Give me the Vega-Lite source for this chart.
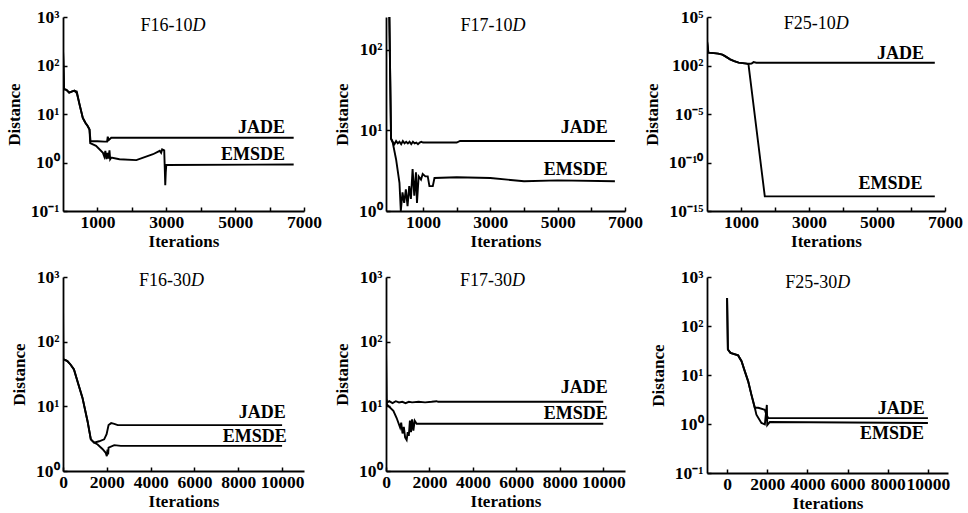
{
  "$schema": "https://vega.github.io/schema/vega-lite/v6.json",
  "padding": {"left": 5, "top": 8, "right": 5, "bottom": 5},
  "background": "white",
  "config": {
    "view": {"stroke": null},
    "text": {"font": "Liberation Serif", "fontSize": 18, "fontWeight": "bold", "color": "black", "baseline": "alphabetic"},
    "axis": {
      "grid": false,
      "domainColor": "black",
      "domainWidth": 1.8,
      "tickColor": "black",
      "tickWidth": 1.5,
      "tickSize": -4,
      "labelFont": "Liberation Serif",
      "labelFontSize": 17.5,
      "labelFontWeight": "bold",
      "labelColor": "black",
      "labelOverlap": false,
      "labelFlush": false,
      "titleFont": "Liberation Serif",
      "titleFontSize": 17,
      "titleFontWeight": "bold",
      "titleColor": "black"
    },
    "axisX": {"labelPadding": 6, "titlePadding": 3},
    "axisY": {"labelPadding": 8, "titlePadding": 7}
  },
  "datasets": {
    "curves": [
      {"panel":1,"series":"JADE","iter":0,"dist":214},{"panel":1,"series":"JADE","iter":30,"dist":32.4},{"panel":1,"series":"JADE","iter":100,"dist":31.6},{"panel":1,"series":"JADE","iter":180,"dist":27.5},{"panel":1,"series":"JADE","iter":250,"dist":28.8},{"panel":1,"series":"JADE","iter":330,"dist":30.2},{"panel":1,"series":"JADE","iter":400,"dist":27.0},{"panel":1,"series":"JADE","iter":480,"dist":15.8},{"panel":1,"series":"JADE","iter":575,"dist":8.3},{"panel":1,"series":"JADE","iter":650,"dist":6.6},{"panel":1,"series":"JADE","iter":720,"dist":5.6},{"panel":1,"series":"JADE","iter":770,"dist":4.8},{"panel":1,"series":"JADE","iter":800,"dist":2.75},{"panel":1,"series":"JADE","iter":1000,"dist":2.75},{"panel":1,"series":"JADE","iter":1200,"dist":2.69},{"panel":1,"series":"JADE","iter":1280,"dist":2.7},{"panel":1,"series":"JADE","iter":1300,"dist":3.4},{"panel":1,"series":"JADE","iter":1330,"dist":2.9},{"panel":1,"series":"JADE","iter":1400,"dist":3.24},{"panel":1,"series":"JADE","iter":6700,"dist":3.24},
      {"panel":1,"series":"EMSDE","iter":0,"dist":214},{"panel":1,"series":"EMSDE","iter":30,"dist":32.4},{"panel":1,"series":"EMSDE","iter":100,"dist":31.6},{"panel":1,"series":"EMSDE","iter":180,"dist":27.5},{"panel":1,"series":"EMSDE","iter":250,"dist":28.8},{"panel":1,"series":"EMSDE","iter":330,"dist":30.2},{"panel":1,"series":"EMSDE","iter":400,"dist":29.0},{"panel":1,"series":"EMSDE","iter":480,"dist":15.8},{"panel":1,"series":"EMSDE","iter":575,"dist":8.3},{"panel":1,"series":"EMSDE","iter":650,"dist":6.6},{"panel":1,"series":"EMSDE","iter":720,"dist":5.6},{"panel":1,"series":"EMSDE","iter":770,"dist":4.8},{"panel":1,"series":"EMSDE","iter":790,"dist":2.5},{"panel":1,"series":"EMSDE","iter":960,"dist":2.2},{"panel":1,"series":"EMSDE","iter":1160,"dist":1.58},{"panel":1,"series":"EMSDE","iter":1200,"dist":1.32},{"panel":1,"series":"EMSDE","iter":1230,"dist":1.74},{"panel":1,"series":"EMSDE","iter":1260,"dist":1.17},{"panel":1,"series":"EMSDE","iter":1290,"dist":1.58},{"panel":1,"series":"EMSDE","iter":1320,"dist":1.2},{"panel":1,"series":"EMSDE","iter":1350,"dist":1.78},{"panel":1,"series":"EMSDE","iter":1370,"dist":1.17},{"panel":1,"series":"EMSDE","iter":1400,"dist":1.26},{"panel":1,"series":"EMSDE","iter":1640,"dist":1.17},{"panel":1,"series":"EMSDE","iter":2130,"dist":1.12},{"panel":1,"series":"EMSDE","iter":2615,"dist":1.48},{"panel":1,"series":"EMSDE","iter":2810,"dist":1.74},{"panel":1,"series":"EMSDE","iter":2850,"dist":1.58},{"panel":1,"series":"EMSDE","iter":2880,"dist":1.86},{"panel":1,"series":"EMSDE","iter":2940,"dist":1.78},{"panel":1,"series":"EMSDE","iter":2955,"dist":0.8},{"panel":1,"series":"EMSDE","iter":2970,"dist":0.34},{"panel":1,"series":"EMSDE","iter":2985,"dist":0.63},{"panel":1,"series":"EMSDE","iter":3000,"dist":0.89},{"panel":1,"series":"EMSDE","iter":6700,"dist":0.91},

      {"panel":2,"series":"JADE","iter":0,"dist":257},{"panel":2,"series":"JADE","iter":50,"dist":7.9},{"panel":2,"series":"JADE","iter":100,"dist":7.24},{"panel":2,"series":"JADE","iter":150,"dist":6.76},{"panel":2,"series":"JADE","iter":200,"dist":7.41},{"panel":2,"series":"JADE","iter":250,"dist":6.92},{"panel":2,"series":"JADE","iter":300,"dist":7.24},{"panel":2,"series":"JADE","iter":350,"dist":6.76},{"panel":2,"series":"JADE","iter":400,"dist":7.41},{"panel":2,"series":"JADE","iter":450,"dist":6.92},{"panel":2,"series":"JADE","iter":500,"dist":7.24},{"panel":2,"series":"JADE","iter":550,"dist":6.92},{"panel":2,"series":"JADE","iter":600,"dist":7.24},{"panel":2,"series":"JADE","iter":650,"dist":6.76},{"panel":2,"series":"JADE","iter":700,"dist":7.24},{"panel":2,"series":"JADE","iter":750,"dist":6.92},{"panel":2,"series":"JADE","iter":800,"dist":7.08},{"panel":2,"series":"JADE","iter":850,"dist":6.76},{"panel":2,"series":"JADE","iter":900,"dist":7.08},{"panel":2,"series":"JADE","iter":950,"dist":7.24},{"panel":2,"series":"JADE","iter":1000,"dist":7.08},{"panel":2,"series":"JADE","iter":1500,"dist":7.08},{"panel":2,"series":"JADE","iter":2000,"dist":7.08},{"panel":2,"series":"JADE","iter":2100,"dist":7.41},{"panel":2,"series":"JADE","iter":6700,"dist":7.41},
      {"panel":2,"series":"EMSDE","iter":0,"dist":257},{"panel":2,"series":"EMSDE","iter":50,"dist":7.9},{"panel":2,"series":"EMSDE","iter":100,"dist":7.08},{"panel":2,"series":"EMSDE","iter":200,"dist":4.37},{"panel":2,"series":"EMSDE","iter":300,"dist":2.24},{"panel":2,"series":"EMSDE","iter":340,"dist":1.0},{"panel":2,"series":"EMSDE","iter":390,"dist":1.7},{"panel":2,"series":"EMSDE","iter":440,"dist":1.26},{"panel":2,"series":"EMSDE","iter":490,"dist":1.86},{"panel":2,"series":"EMSDE","iter":540,"dist":1.15},{"panel":2,"series":"EMSDE","iter":590,"dist":2.04},{"panel":2,"series":"EMSDE","iter":640,"dist":1.41},{"panel":2,"series":"EMSDE","iter":690,"dist":3.31},{"panel":2,"series":"EMSDE","iter":740,"dist":1.55},{"panel":2,"series":"EMSDE","iter":790,"dist":3.02},{"panel":2,"series":"EMSDE","iter":820,"dist":1.26},{"panel":2,"series":"EMSDE","iter":870,"dist":2.69},{"panel":2,"series":"EMSDE","iter":940,"dist":2.45},{"panel":2,"series":"EMSDE","iter":990,"dist":2.88},{"panel":2,"series":"EMSDE","iter":1070,"dist":2.69},{"panel":2,"series":"EMSDE","iter":1140,"dist":2.69},{"panel":2,"series":"EMSDE","iter":1190,"dist":2.04},{"panel":2,"series":"EMSDE","iter":1290,"dist":2.04},{"panel":2,"series":"EMSDE","iter":1340,"dist":2.57},{"panel":2,"series":"EMSDE","iter":2000,"dist":2.63},{"panel":2,"series":"EMSDE","iter":3000,"dist":2.57},{"panel":2,"series":"EMSDE","iter":4000,"dist":2.34},{"panel":2,"series":"EMSDE","iter":5000,"dist":2.4},{"panel":2,"series":"EMSDE","iter":6700,"dist":2.34},

      {"panel":3,"series":"JADE","iter":0,"dist":355},{"panel":3,"series":"JADE","iter":40,"dist":20.9},{"panel":3,"series":"JADE","iter":200,"dist":19},{"panel":3,"series":"JADE","iter":330,"dist":16.6},{"panel":3,"series":"JADE","iter":450,"dist":13},{"panel":3,"series":"JADE","iter":530,"dist":9.3},{"panel":3,"series":"JADE","iter":600,"dist":6.5},{"panel":3,"series":"JADE","iter":680,"dist":4.27},{"panel":3,"series":"JADE","iter":800,"dist":2.8},{"panel":3,"series":"JADE","iter":930,"dist":1.95},{"panel":3,"series":"JADE","iter":1170,"dist":1.55},{"panel":3,"series":"JADE","iter":1250,"dist":1.5},{"panel":3,"series":"JADE","iter":1310,"dist":1.6},{"panel":3,"series":"JADE","iter":1370,"dist":2.24},{"panel":3,"series":"JADE","iter":1450,"dist":1.95},{"panel":3,"series":"JADE","iter":6700,"dist":1.95},
      {"panel":3,"series":"EMSDE","iter":0,"dist":355},{"panel":3,"series":"EMSDE","iter":40,"dist":20.9},{"panel":3,"series":"EMSDE","iter":200,"dist":19},{"panel":3,"series":"EMSDE","iter":330,"dist":16.6},{"panel":3,"series":"EMSDE","iter":450,"dist":13},{"panel":3,"series":"EMSDE","iter":530,"dist":9.3},{"panel":3,"series":"EMSDE","iter":600,"dist":6.5},{"panel":3,"series":"EMSDE","iter":680,"dist":4.27},{"panel":3,"series":"EMSDE","iter":800,"dist":2.8},{"panel":3,"series":"EMSDE","iter":930,"dist":1.95},{"panel":3,"series":"EMSDE","iter":1170,"dist":1.55},{"panel":3,"series":"EMSDE","iter":1220,"dist":1.29},{"panel":3,"series":"EMSDE","iter":1700,"dist":3.24e-14},{"panel":3,"series":"EMSDE","iter":6700,"dist":3.24e-14},

      {"panel":4,"series":"JADE","iter":0,"dist":479},{"panel":4,"series":"JADE","iter":10,"dist":53.7},{"panel":4,"series":"JADE","iter":200,"dist":50.1},{"panel":4,"series":"JADE","iter":350,"dist":44},{"panel":4,"series":"JADE","iter":500,"dist":37.2},{"panel":4,"series":"JADE","iter":660,"dist":24.5},{"panel":4,"series":"JADE","iter":890,"dist":13.5},{"panel":4,"series":"JADE","iter":1120,"dist":5.89},{"panel":4,"series":"JADE","iter":1270,"dist":3.09},{"panel":4,"series":"JADE","iter":1420,"dist":2.75},{"panel":4,"series":"JADE","iter":1650,"dist":2.88},{"panel":4,"series":"JADE","iter":1880,"dist":3.09},{"panel":4,"series":"JADE","iter":1990,"dist":3.72},{"panel":4,"series":"JADE","iter":2080,"dist":5.13},{"panel":4,"series":"JADE","iter":2200,"dist":5.5},{"panel":4,"series":"JADE","iter":2340,"dist":5.37},{"panel":4,"series":"JADE","iter":2500,"dist":5.13},{"panel":4,"series":"JADE","iter":10000,"dist":5.13},
      {"panel":4,"series":"EMSDE","iter":0,"dist":479},{"panel":4,"series":"EMSDE","iter":10,"dist":53.7},{"panel":4,"series":"EMSDE","iter":200,"dist":50.1},{"panel":4,"series":"EMSDE","iter":350,"dist":44},{"panel":4,"series":"EMSDE","iter":500,"dist":37.2},{"panel":4,"series":"EMSDE","iter":660,"dist":24.5},{"panel":4,"series":"EMSDE","iter":890,"dist":13.5},{"panel":4,"series":"EMSDE","iter":1120,"dist":5.89},{"panel":4,"series":"EMSDE","iter":1270,"dist":3.09},{"panel":4,"series":"EMSDE","iter":1420,"dist":2.75},{"panel":4,"series":"EMSDE","iter":1580,"dist":2.57},{"panel":4,"series":"EMSDE","iter":1800,"dist":2.19},{"panel":4,"series":"EMSDE","iter":1950,"dist":1.91},{"panel":4,"series":"EMSDE","iter":2000,"dist":1.7},{"panel":4,"series":"EMSDE","iter":2030,"dist":2.14},{"panel":4,"series":"EMSDE","iter":2060,"dist":1.8},{"panel":4,"series":"EMSDE","iter":2080,"dist":2.29},{"panel":4,"series":"EMSDE","iter":2340,"dist":2.51},{"panel":4,"series":"EMSDE","iter":2640,"dist":2.45},{"panel":4,"series":"EMSDE","iter":10000,"dist":2.45},

      {"panel":5,"series":"JADE","iter":0,"dist":79},{"panel":5,"series":"JADE","iter":20,"dist":12.9},{"panel":5,"series":"JADE","iter":60,"dist":11.5},{"panel":5,"series":"JADE","iter":150,"dist":12.0},{"panel":5,"series":"JADE","iter":300,"dist":11.2},{"panel":5,"series":"JADE","iter":450,"dist":12.0},{"panel":5,"series":"JADE","iter":600,"dist":11.5},{"panel":5,"series":"JADE","iter":750,"dist":11.75},{"panel":5,"series":"JADE","iter":900,"dist":11.2},{"panel":5,"series":"JADE","iter":1050,"dist":11.75},{"panel":5,"series":"JADE","iter":1200,"dist":11.5},{"panel":5,"series":"JADE","iter":1500,"dist":11.75},{"panel":5,"series":"JADE","iter":1800,"dist":11.5},{"panel":5,"series":"JADE","iter":2100,"dist":11.75},{"panel":5,"series":"JADE","iter":2330,"dist":12.0},{"panel":5,"series":"JADE","iter":2400,"dist":11.75},{"panel":5,"series":"JADE","iter":10000,"dist":11.75},
      {"panel":5,"series":"EMSDE","iter":0,"dist":79},{"panel":5,"series":"EMSDE","iter":20,"dist":12.9},{"panel":5,"series":"EMSDE","iter":40,"dist":10.7},{"panel":5,"series":"EMSDE","iter":340,"dist":8.5},{"panel":5,"series":"EMSDE","iter":490,"dist":6.6},{"panel":5,"series":"EMSDE","iter":650,"dist":4.68},{"panel":5,"series":"EMSDE","iter":700,"dist":5.6},{"panel":5,"series":"EMSDE","iter":760,"dist":3.8},{"panel":5,"series":"EMSDE","iter":820,"dist":4.8},{"panel":5,"series":"EMSDE","iter":880,"dist":3.3},{"panel":5,"series":"EMSDE","iter":950,"dist":3.02},{"panel":5,"series":"EMSDE","iter":1000,"dist":4.0},{"panel":5,"series":"EMSDE","iter":1050,"dist":3.5},{"panel":5,"series":"EMSDE","iter":1100,"dist":6.0},{"panel":5,"series":"EMSDE","iter":1150,"dist":4.0},{"panel":5,"series":"EMSDE","iter":1200,"dist":6.3},{"panel":5,"series":"EMSDE","iter":1260,"dist":4.2},{"panel":5,"series":"EMSDE","iter":1320,"dist":6.0},{"panel":5,"series":"EMSDE","iter":1410,"dist":5.37},{"panel":5,"series":"EMSDE","iter":10000,"dist":5.37},

      {"panel":6,"series":"JADE","iter":0,"dist":372},{"panel":6,"series":"JADE","iter":40,"dist":33.1},{"panel":6,"series":"JADE","iter":170,"dist":28.2},{"panel":6,"series":"JADE","iter":550,"dist":25.1},{"panel":6,"series":"JADE","iter":720,"dist":19.1},{"panel":6,"series":"JADE","iter":880,"dist":12.0},{"panel":6,"series":"JADE","iter":1050,"dist":7.41},{"panel":6,"series":"JADE","iter":1210,"dist":3.98},{"panel":6,"series":"JADE","iter":1380,"dist":2.14},{"panel":6,"series":"JADE","iter":1550,"dist":2.14},{"panel":6,"series":"JADE","iter":1880,"dist":1.95},{"panel":6,"series":"JADE","iter":1950,"dist":1.58},{"panel":6,"series":"JADE","iter":2050,"dist":1.32},{"panel":6,"series":"JADE","iter":10000,"dist":1.32},
      {"panel":6,"series":"EMSDE","iter":0,"dist":372},{"panel":6,"series":"EMSDE","iter":40,"dist":33.1},{"panel":6,"series":"EMSDE","iter":170,"dist":28.2},{"panel":6,"series":"EMSDE","iter":550,"dist":25.1},{"panel":6,"series":"EMSDE","iter":720,"dist":19.1},{"panel":6,"series":"EMSDE","iter":880,"dist":12.0},{"panel":6,"series":"EMSDE","iter":1050,"dist":7.41},{"panel":6,"series":"EMSDE","iter":1210,"dist":3.98},{"panel":6,"series":"EMSDE","iter":1380,"dist":2.14},{"panel":6,"series":"EMSDE","iter":1460,"dist":1.55},{"panel":6,"series":"EMSDE","iter":1710,"dist":1.05},{"panel":6,"series":"EMSDE","iter":1880,"dist":0.98},{"panel":6,"series":"EMSDE","iter":1980,"dist":2.45},{"panel":6,"series":"EMSDE","iter":2000,"dist":0.95},{"panel":6,"series":"EMSDE","iter":2130,"dist":1.1},{"panel":6,"series":"EMSDE","iter":10000,"dist":1.05}
    ],
    "notes": [
      {"panel":1,"kind":"t1","text":"F16-10","iter":3760,"dist":513},{"panel":1,"kind":"t2","text":"D","iter":3760,"dist":513},{"panel":1,"kind":"lab","text":"JADE","iter":6450,"dist":4.0},{"panel":1,"kind":"lab","text":"EMSDE","iter":6450,"dist":1.11},
      {"panel":2,"kind":"t1","text":"F17-10","iter":3660,"dist":172},{"panel":2,"kind":"t2","text":"D","iter":3660,"dist":172},{"panel":2,"kind":"lab","text":"JADE","iter":6490,"dist":9.23},{"panel":2,"kind":"lab","text":"EMSDE","iter":6490,"dist":2.8},
      {"panel":3,"kind":"t1","text":"F25-10","iter":3790,"dist":5370},{"panel":3,"kind":"t2","text":"D","iter":3790,"dist":5370},{"panel":3,"kind":"lab","text":"JADE","iter":6380,"dist":4.27},{"panel":3,"kind":"lab","text":"EMSDE","iter":6340,"dist":1.86e-13},
      {"panel":4,"kind":"t1","text":"F16-30","iter":5840,"dist":724},{"panel":4,"kind":"t2","text":"D","iter":5840,"dist":724},{"panel":4,"kind":"lab","text":"JADE","iter":10170,"dist":6.65},{"panel":4,"kind":"lab","text":"EMSDE","iter":10210,"dist":2.84},
      {"panel":5,"kind":"t1","text":"F17-30","iter":5800,"dist":724},{"panel":5,"kind":"t2","text":"D","iter":5800,"dist":724},{"panel":5,"kind":"lab","text":"JADE","iter":10210,"dist":16.2},{"panel":5,"kind":"lab","text":"EMSDE","iter":10210,"dist":6.3},
      {"panel":6,"kind":"t1","text":"F25-30","iter":5490,"dist":600},{"panel":6,"kind":"t2","text":"D","iter":5490,"dist":600},{"panel":6,"kind":"lab","text":"JADE","iter":9840,"dist":1.58},{"panel":6,"kind":"lab","text":"EMSDE","iter":9800,"dist":0.49}
    ]
  },
  "columns": 3,
  "spacing": {"row": 66, "column": 82},
  "bounds": "flush",
  "concat": [
    {
      "width": 241, "height": 194,
      "encoding": {
        "x": {"field": "iter", "type": "quantitative", "scale": {"domain": [0, 7000], "nice": false, "zero": false}, "axis": {"title": "Iterations", "values": [1000,2000,3000,4000,5000,6000,7000], "format": "d", "labelExpr": "datum.value % 2000 == 0 ? '' : datum.label"}},
        "y": {"field": "dist", "type": "quantitative", "scale": {"type": "log", "domain": [0.1, 1000], "nice": false}, "axis": {"title": "Distance", "values": [0.1,1,10,100,1000], "labelExpr": "datum.value > 500 ? '10³' : datum.value > 50 ? '10²' : datum.value > 5 ? '10¹' : datum.value > 0.5 ? '10⁰' : '10⁻¹'"}}
      },
      "layer": [
        {"data": {"name": "curves"}, "transform": [{"filter": "datum.panel == 1"}], "mark": {"type": "line", "color": "black", "strokeWidth": 1.9, "clip": true}, "encoding": {"detail": {"field": "series"}}},
        {"data": {"name": "notes"}, "transform": [{"filter": "datum.panel == 1 && datum.kind == 't1'"}], "mark": {"type": "text", "align": "right", "fontWeight": "normal"}, "encoding": {"text": {"field": "text"}}},
        {"data": {"name": "notes"}, "transform": [{"filter": "datum.panel == 1 && datum.kind == 't2'"}], "mark": {"type": "text", "align": "left", "fontStyle": "italic", "fontWeight": "normal"}, "encoding": {"text": {"field": "text"}}},
        {"data": {"name": "notes"}, "transform": [{"filter": "datum.panel == 1 && datum.kind == 'lab'"}], "mark": {"type": "text", "align": "right"}, "encoding": {"text": {"field": "text"}}}
      ]
    },
    {
      "width": 239, "height": 194,
      "encoding": {
        "x": {"field": "iter", "type": "quantitative", "scale": {"domain": [-100, 7000], "nice": false, "zero": false}, "axis": {"title": "Iterations", "values": [1000,2000,3000,4000,5000,6000,7000], "format": "d", "labelExpr": "datum.value % 2000 == 0 ? '' : datum.label"}},
        "y": {"field": "dist", "type": "quantitative", "scale": {"type": "log", "domain": [1, 257], "nice": false}, "axis": {"title": "Distance", "values": [1,10,100], "labelExpr": "datum.value > 50 ? '10²' : datum.value > 5 ? '10¹' : '10⁰'"}}
      },
      "layer": [
        {"data": {"name": "curves"}, "transform": [{"filter": "datum.panel == 2"}], "mark": {"type": "line", "color": "black", "strokeWidth": 1.9, "clip": true}, "encoding": {"detail": {"field": "series"}}},
        {"data": {"name": "notes"}, "transform": [{"filter": "datum.panel == 2 && datum.kind == 't1'"}], "mark": {"type": "text", "align": "right", "fontWeight": "normal"}, "encoding": {"text": {"field": "text"}}},
        {"data": {"name": "notes"}, "transform": [{"filter": "datum.panel == 2 && datum.kind == 't2'"}], "mark": {"type": "text", "align": "left", "fontStyle": "italic", "fontWeight": "normal"}, "encoding": {"text": {"field": "text"}}},
        {"data": {"name": "notes"}, "transform": [{"filter": "datum.panel == 2 && datum.kind == 'lab'"}], "mark": {"type": "text", "align": "right"}, "encoding": {"text": {"field": "text"}}}
      ]
    },
    {
      "width": 238, "height": 194,
      "encoding": {
        "x": {"field": "iter", "type": "quantitative", "scale": {"domain": [0, 7000], "nice": false, "zero": false}, "axis": {"title": "Iterations", "values": [1000,2000,3000,4000,5000,6000,7000], "format": "d", "labelExpr": "datum.value % 2000 == 0 ? '' : datum.label"}},
        "y": {"field": "dist", "type": "quantitative", "scale": {"type": "log", "domain": [1e-15, 100000], "nice": false}, "axis": {"title": "Distance", "values": [1e-15,1e-10,1e-5,1,100000], "labelExpr": "datum.value > 1000 ? '10⁵' : datum.value > 0.01 ? '100²' : datum.value > 1e-7 ? '10⁻⁵' : datum.value > 1e-12 ? '10⁻¹⁰' : '10⁻¹⁵'"}}
      },
      "layer": [
        {"data": {"name": "curves"}, "transform": [{"filter": "datum.panel == 3"}], "mark": {"type": "line", "color": "black", "strokeWidth": 1.9, "clip": true}, "encoding": {"detail": {"field": "series"}}},
        {"data": {"name": "notes"}, "transform": [{"filter": "datum.panel == 3 && datum.kind == 't1'"}], "mark": {"type": "text", "align": "right", "fontWeight": "normal"}, "encoding": {"text": {"field": "text"}}},
        {"data": {"name": "notes"}, "transform": [{"filter": "datum.panel == 3 && datum.kind == 't2'"}], "mark": {"type": "text", "align": "left", "fontStyle": "italic", "fontWeight": "normal"}, "encoding": {"text": {"field": "text"}}},
        {"data": {"name": "notes"}, "transform": [{"filter": "datum.panel == 3 && datum.kind == 'lab'"}], "mark": {"type": "text", "align": "right"}, "encoding": {"text": {"field": "text"}}}
      ]
    },
    {
      "width": 241, "height": 194,
      "encoding": {
        "x": {"field": "iter", "type": "quantitative", "scale": {"domain": [0, 11000], "nice": false, "zero": false}, "axis": {"title": "Iterations", "values": [0,2000,4000,6000,8000,10000], "format": "d"}},
        "y": {"field": "dist", "type": "quantitative", "scale": {"type": "log", "domain": [1, 1000], "nice": false}, "axis": {"title": "Distance", "values": [1,10,100,1000], "labelExpr": "datum.value > 500 ? '10³' : datum.value > 50 ? '10²' : datum.value > 5 ? '10¹' : '10⁰'"}}
      },
      "layer": [
        {"data": {"name": "curves"}, "transform": [{"filter": "datum.panel == 4"}], "mark": {"type": "line", "color": "black", "strokeWidth": 1.9, "clip": true}, "encoding": {"detail": {"field": "series"}}},
        {"data": {"name": "notes"}, "transform": [{"filter": "datum.panel == 4 && datum.kind == 't1'"}], "mark": {"type": "text", "align": "right", "fontWeight": "normal"}, "encoding": {"text": {"field": "text"}}},
        {"data": {"name": "notes"}, "transform": [{"filter": "datum.panel == 4 && datum.kind == 't2'"}], "mark": {"type": "text", "align": "left", "fontStyle": "italic", "fontWeight": "normal"}, "encoding": {"text": {"field": "text"}}},
        {"data": {"name": "notes"}, "transform": [{"filter": "datum.panel == 4 && datum.kind == 'lab'"}], "mark": {"type": "text", "align": "right"}, "encoding": {"text": {"field": "text"}}}
      ]
    },
    {
      "width": 239, "height": 194,
      "encoding": {
        "x": {"field": "iter", "type": "quantitative", "scale": {"domain": [0, 11000], "nice": false, "zero": false}, "axis": {"title": "Iterations", "values": [0,2000,4000,6000,8000,10000], "format": "d"}},
        "y": {"field": "dist", "type": "quantitative", "scale": {"type": "log", "domain": [1, 1000], "nice": false}, "axis": {"title": "Distance", "values": [1,10,100,1000], "labelExpr": "datum.value > 500 ? '10³' : datum.value > 50 ? '10²' : datum.value > 5 ? '10¹' : '10⁰'"}}
      },
      "layer": [
        {"data": {"name": "curves"}, "transform": [{"filter": "datum.panel == 5"}], "mark": {"type": "line", "color": "black", "strokeWidth": 1.9, "clip": true}, "encoding": {"detail": {"field": "series"}}},
        {"data": {"name": "notes"}, "transform": [{"filter": "datum.panel == 5 && datum.kind == 't1'"}], "mark": {"type": "text", "align": "right", "fontWeight": "normal"}, "encoding": {"text": {"field": "text"}}},
        {"data": {"name": "notes"}, "transform": [{"filter": "datum.panel == 5 && datum.kind == 't2'"}], "mark": {"type": "text", "align": "left", "fontStyle": "italic", "fontWeight": "normal"}, "encoding": {"text": {"field": "text"}}},
        {"data": {"name": "notes"}, "transform": [{"filter": "datum.panel == 5 && datum.kind == 'lab'"}], "mark": {"type": "text", "align": "right"}, "encoding": {"text": {"field": "text"}}}
      ]
    },
    {
      "width": 241, "height": 196,
      "encoding": {
        "x": {"field": "iter", "type": "quantitative", "scale": {"domain": [-1000, 11000], "nice": false, "zero": false}, "axis": {"title": "Iterations", "values": [0,2000,4000,6000,8000,10000], "format": "d"}},
        "y": {"field": "dist", "type": "quantitative", "scale": {"type": "log", "domain": [0.1, 1000], "nice": false}, "axis": {"title": "Distance", "values": [0.1,1,10,100,1000], "labelExpr": "datum.value > 500 ? '10³' : datum.value > 50 ? '10²' : datum.value > 5 ? '10¹' : datum.value > 0.5 ? '10⁰' : '10⁻¹'"}}
      },
      "layer": [
        {"data": {"name": "curves"}, "transform": [{"filter": "datum.panel == 6"}], "mark": {"type": "line", "color": "black", "strokeWidth": 1.9, "clip": true}, "encoding": {"detail": {"field": "series"}}},
        {"data": {"name": "notes"}, "transform": [{"filter": "datum.panel == 6 && datum.kind == 't1'"}], "mark": {"type": "text", "align": "right", "fontWeight": "normal"}, "encoding": {"text": {"field": "text"}}},
        {"data": {"name": "notes"}, "transform": [{"filter": "datum.panel == 6 && datum.kind == 't2'"}], "mark": {"type": "text", "align": "left", "fontStyle": "italic", "fontWeight": "normal"}, "encoding": {"text": {"field": "text"}}},
        {"data": {"name": "notes"}, "transform": [{"filter": "datum.panel == 6 && datum.kind == 'lab'"}], "mark": {"type": "text", "align": "right"}, "encoding": {"text": {"field": "text"}}}
      ]
    }
  ]
}
